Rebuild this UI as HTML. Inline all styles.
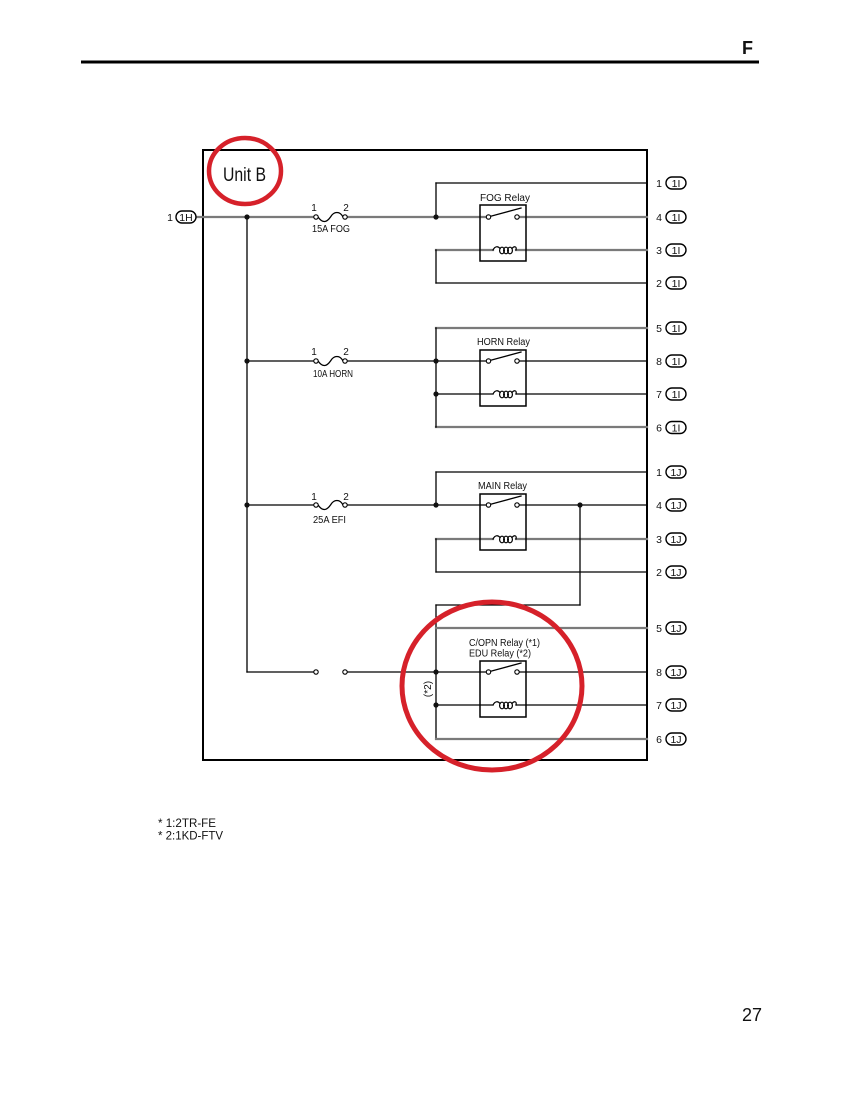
<!DOCTYPE html>
<html><head><meta charset="utf-8"><style>
html,body{margin:0;padding:0;background:#fff;}
svg{display:block;}
text{font-family:"Liberation Sans",Arial,sans-serif;fill:#111;}
</style></head><body>
<svg width="850" height="1100" viewBox="0 0 850 1100" xmlns="http://www.w3.org/2000/svg">
<rect width="850" height="1100" fill="#fff"/>
<!-- header -->
<text x="742" y="54" font-size="18" font-weight="bold">F</text>
<line x1="81" y1="62" x2="759" y2="62" stroke="#000" stroke-width="3"/>

<!-- main box -->
<rect x="203" y="150" width="444" height="610" fill="none" stroke="#000" stroke-width="2"/>

<g fill="none" stroke-linecap="square">
<line x1="247" y1="217" x2="247" y2="672" stroke="#000" stroke-width="1.3"/>

<!-- FOG section -->
<g stroke="#7a7a7a" stroke-width="2.2">
<line x1="196" y1="217" x2="314" y2="217"/>
<line x1="347" y1="217" x2="486" y2="217"/>
<line x1="519" y1="217" x2="647" y2="217"/>
<line x1="436" y1="250" x2="493" y2="250"/>
<line x1="516" y1="250" x2="647" y2="250"/>
</g>
<g stroke="#000" stroke-width="1.3">
<line x1="436" y1="183" x2="647" y2="183"/>
<line x1="436" y1="183" x2="436" y2="217"/>
<line x1="436" y1="250" x2="436" y2="283"/>
<line x1="436" y1="283" x2="647" y2="283"/>
</g>

<!-- HORN section -->
<g stroke="#7a7a7a" stroke-width="2.2">
<line x1="436" y1="328" x2="647" y2="328"/>
<line x1="436" y1="427" x2="647" y2="427"/>
</g>
<g stroke="#000" stroke-width="1.3">
<line x1="436" y1="328" x2="436" y2="427"/>
<line x1="247" y1="361" x2="314" y2="361"/>
<line x1="347" y1="361" x2="486" y2="361"/>
<line x1="519" y1="361" x2="647" y2="361"/>
<line x1="436" y1="394" x2="493" y2="394"/>
<line x1="516" y1="394" x2="647" y2="394"/>
</g>

<!-- MAIN section -->
<g stroke="#7a7a7a" stroke-width="2.2">
<line x1="436" y1="539" x2="493" y2="539"/>
<line x1="516" y1="539" x2="647" y2="539"/>
</g>
<g stroke="#000" stroke-width="1.3">
<line x1="436" y1="472" x2="647" y2="472"/>
<line x1="436" y1="472" x2="436" y2="505"/>
<line x1="247" y1="505" x2="314" y2="505"/>
<line x1="347" y1="505" x2="486" y2="505"/>
<line x1="519" y1="505" x2="647" y2="505"/>
<line x1="580" y1="505" x2="580" y2="605"/>
<line x1="580" y1="605" x2="436" y2="605"/>
<line x1="436" y1="605" x2="436" y2="739"/>
<line x1="436" y1="539" x2="436" y2="572"/>
<line x1="436" y1="572" x2="647" y2="572"/>
</g>

<!-- C/OPN section -->
<g stroke="#7a7a7a" stroke-width="2.2">
<line x1="436" y1="628" x2="647" y2="628"/>
<line x1="436" y1="739" x2="647" y2="739"/>
</g>
<g stroke="#000" stroke-width="1.3">
<line x1="247" y1="672" x2="314" y2="672"/>
<line x1="347" y1="672" x2="486" y2="672"/>
<line x1="519" y1="672" x2="647" y2="672"/>
<line x1="436" y1="705" x2="493" y2="705"/>
<line x1="516" y1="705" x2="647" y2="705"/>
</g>

<!-- fuses -->
<g stroke="#000" stroke-width="1.3">
<path d="M318,217 C323,224 327,222 330.5,217 C334,211 340,211 343,217"/>
<path d="M318,361 C323,368 327,366 330.5,361 C334,355 340,355 343,361"/>
<path d="M318,505 C323,512 327,510 330.5,505 C334,499 340,499 343,505"/>
</g>
<g stroke="#000" stroke-width="1.1" fill="#fff">
<circle cx="316" cy="217" r="2.2"/><circle cx="345" cy="217" r="2.2"/>
<circle cx="316" cy="361" r="2.2"/><circle cx="345" cy="361" r="2.2"/>
<circle cx="316" cy="505" r="2.2"/><circle cx="345" cy="505" r="2.2"/>
<circle cx="316" cy="672" r="2.2"/><circle cx="345" cy="672" r="2.2"/>
</g>

<!-- relay boxes -->
<g stroke="#000" stroke-width="1.5">
<rect x="480" y="205" width="46" height="56"/>
<rect x="480" y="350" width="46" height="56"/>
<rect x="480" y="494" width="46" height="56"/>
<rect x="480" y="661" width="46" height="56"/>
</g>
<g stroke="#000" stroke-width="1.3">
<line x1="488" y1="217" x2="521" y2="208"/>
<line x1="488" y1="361" x2="521" y2="352"/>
<line x1="488" y1="505" x2="521" y2="496"/>
<line x1="488" y1="672" x2="521" y2="663"/>
</g>
<g stroke="#000" stroke-width="1.1" fill="#fff">
<circle cx="488.5" cy="217" r="2.2"/><circle cx="517" cy="217" r="2.2"/>
<circle cx="488.5" cy="361" r="2.2"/><circle cx="517" cy="361" r="2.2"/>
<circle cx="488.5" cy="505" r="2.2"/><circle cx="517" cy="505" r="2.2"/>
<circle cx="488.5" cy="672" r="2.2"/><circle cx="517" cy="672" r="2.2"/>
</g>
<!-- coils -->
<g stroke="#000" stroke-width="1.2" fill="none">
<path d="M493,250 C495,246 498,246 500,248.5 M512,248.5 C514,246 517,246 516,250"/>
<ellipse cx="502" cy="250.5" rx="2.4" ry="3.3"/><ellipse cx="506" cy="250.5" rx="2.4" ry="3.3"/><ellipse cx="510" cy="250.5" rx="2.4" ry="3.3"/>
<path d="M493,394 C495,390 498,390 500,392.5 M512,392.5 C514,390 517,390 516,394"/>
<ellipse cx="502" cy="394.5" rx="2.4" ry="3.3"/><ellipse cx="506" cy="394.5" rx="2.4" ry="3.3"/><ellipse cx="510" cy="394.5" rx="2.4" ry="3.3"/>
<path d="M493,539 C495,535 498,535 500,537.5 M512,537.5 C514,535 517,535 516,539"/>
<ellipse cx="502" cy="539.5" rx="2.4" ry="3.3"/><ellipse cx="506" cy="539.5" rx="2.4" ry="3.3"/><ellipse cx="510" cy="539.5" rx="2.4" ry="3.3"/>
<path d="M493,705 C495,701 498,701 500,703.5 M512,703.5 C514,701 517,701 516,705"/>
<ellipse cx="502" cy="705.5" rx="2.4" ry="3.3"/><ellipse cx="506" cy="705.5" rx="2.4" ry="3.3"/><ellipse cx="510" cy="705.5" rx="2.4" ry="3.3"/>
</g>
</g>

<!-- junction dots -->
<g fill="#111">
<circle cx="247" cy="217" r="2.6"/><circle cx="436" cy="217" r="2.6"/>
<circle cx="247" cy="361" r="2.6"/><circle cx="436" cy="361" r="2.6"/><circle cx="436" cy="394" r="2.6"/>
<circle cx="247" cy="505" r="2.6"/><circle cx="436" cy="505" r="2.6"/><circle cx="580" cy="505" r="2.6"/>
<circle cx="436" cy="672" r="2.6"/><circle cx="436" cy="705" r="2.6"/>
</g>

<!-- input connector 1H -->
<text x="170" y="221" font-size="10.5" text-anchor="middle">1</text>
<rect x="176" y="211" width="20" height="12" rx="6" fill="#fff" stroke="#000" stroke-width="1.4"/>
<text x="186" y="221" font-size="10.5" text-anchor="middle">1H</text>

<!-- fuse labels -->
<g font-size="10">
<text x="314" y="211" text-anchor="middle">1</text><text x="346" y="211" text-anchor="middle">2</text>
<text x="312" y="232" textLength="38" lengthAdjust="spacingAndGlyphs">15A FOG</text>
<text x="314" y="355" text-anchor="middle">1</text><text x="346" y="355" text-anchor="middle">2</text>
<text x="313" y="377" textLength="40" lengthAdjust="spacingAndGlyphs">10A HORN</text>
<text x="314" y="500" text-anchor="middle">1</text><text x="346" y="500" text-anchor="middle">2</text>
<text x="313" y="523" textLength="33" lengthAdjust="spacingAndGlyphs">25A EFI</text>
</g>

<!-- relay labels -->
<g font-size="10">
<text x="480" y="201" textLength="50" lengthAdjust="spacingAndGlyphs">FOG Relay</text>
<text x="477" y="345" textLength="53" lengthAdjust="spacingAndGlyphs">HORN Relay</text>
<text x="478" y="489" textLength="49" lengthAdjust="spacingAndGlyphs">MAIN Relay</text>
<text x="469" y="646" textLength="71" lengthAdjust="spacingAndGlyphs">C/OPN Relay (*1)</text>
<text x="469" y="656.5" textLength="62" lengthAdjust="spacingAndGlyphs">EDU Relay (*2)</text>
<text x="0" y="0" transform="translate(431,689) rotate(-90)" text-anchor="middle">(*2)</text>
</g>

<!-- right connectors -->
<g font-size="10.5">
<text x="659" y="187" text-anchor="middle">1</text><rect x="666" y="177" width="20" height="12" rx="6" fill="#fff" stroke="#000" stroke-width="1.4"/><text x="676" y="187" text-anchor="middle">1I</text>
<text x="659" y="221" text-anchor="middle">4</text><rect x="666" y="211" width="20" height="12" rx="6" fill="#fff" stroke="#000" stroke-width="1.4"/><text x="676" y="221" text-anchor="middle">1I</text>
<text x="659" y="254" text-anchor="middle">3</text><rect x="666" y="244" width="20" height="12" rx="6" fill="#fff" stroke="#000" stroke-width="1.4"/><text x="676" y="254" text-anchor="middle">1I</text>
<text x="659" y="287" text-anchor="middle">2</text><rect x="666" y="277" width="20" height="12" rx="6" fill="#fff" stroke="#000" stroke-width="1.4"/><text x="676" y="287" text-anchor="middle">1I</text>

<text x="659" y="332" text-anchor="middle">5</text><rect x="666" y="322" width="20" height="12" rx="6" fill="#fff" stroke="#000" stroke-width="1.4"/><text x="676" y="332" text-anchor="middle">1I</text>
<text x="659" y="365" text-anchor="middle">8</text><rect x="666" y="355" width="20" height="12" rx="6" fill="#fff" stroke="#000" stroke-width="1.4"/><text x="676" y="365" text-anchor="middle">1I</text>
<text x="659" y="398" text-anchor="middle">7</text><rect x="666" y="388" width="20" height="12" rx="6" fill="#fff" stroke="#000" stroke-width="1.4"/><text x="676" y="398" text-anchor="middle">1I</text>
<text x="659" y="431.5" text-anchor="middle">6</text><rect x="666" y="421.5" width="20" height="12" rx="6" fill="#fff" stroke="#000" stroke-width="1.4"/><text x="676" y="431.5" text-anchor="middle">1I</text>

<text x="659" y="476" text-anchor="middle">1</text><rect x="666" y="466" width="20" height="12" rx="6" fill="#fff" stroke="#000" stroke-width="1.4"/><text x="676" y="476" text-anchor="middle">1J</text>
<text x="659" y="509" text-anchor="middle">4</text><rect x="666" y="499" width="20" height="12" rx="6" fill="#fff" stroke="#000" stroke-width="1.4"/><text x="676" y="509" text-anchor="middle">1J</text>
<text x="659" y="543" text-anchor="middle">3</text><rect x="666" y="533" width="20" height="12" rx="6" fill="#fff" stroke="#000" stroke-width="1.4"/><text x="676" y="543" text-anchor="middle">1J</text>
<text x="659" y="576" text-anchor="middle">2</text><rect x="666" y="566" width="20" height="12" rx="6" fill="#fff" stroke="#000" stroke-width="1.4"/><text x="676" y="576" text-anchor="middle">1J</text>

<text x="659" y="632" text-anchor="middle">5</text><rect x="666" y="622" width="20" height="12" rx="6" fill="#fff" stroke="#000" stroke-width="1.4"/><text x="676" y="632" text-anchor="middle">1J</text>
<text x="659" y="676" text-anchor="middle">8</text><rect x="666" y="666" width="20" height="12" rx="6" fill="#fff" stroke="#000" stroke-width="1.4"/><text x="676" y="676" text-anchor="middle">1J</text>
<text x="659" y="709" text-anchor="middle">7</text><rect x="666" y="699" width="20" height="12" rx="6" fill="#fff" stroke="#000" stroke-width="1.4"/><text x="676" y="709" text-anchor="middle">1J</text>
<text x="659" y="743" text-anchor="middle">6</text><rect x="666" y="733" width="20" height="12" rx="6" fill="#fff" stroke="#000" stroke-width="1.4"/><text x="676" y="743" text-anchor="middle">1J</text>
</g>

<!-- Unit B -->
<text x="223" y="181" font-size="19" textLength="43" lengthAdjust="spacingAndGlyphs">Unit B</text>

<!-- red circles -->
<ellipse cx="245" cy="171" rx="36" ry="33" fill="none" stroke="#d6212a" stroke-width="4.5"/>
<ellipse cx="492" cy="686" rx="90" ry="84" fill="none" stroke="#d6212a" stroke-width="5"/>

<!-- notes -->
<text x="158" y="827" font-size="12" textLength="58" lengthAdjust="spacingAndGlyphs">* 1:2TR-FE</text>
<text x="158" y="839.5" font-size="12" textLength="65" lengthAdjust="spacingAndGlyphs">* 2:1KD-FTV</text>

<!-- page number -->
<text x="742" y="1021" font-size="18">27</text>
</svg>
</body></html>
